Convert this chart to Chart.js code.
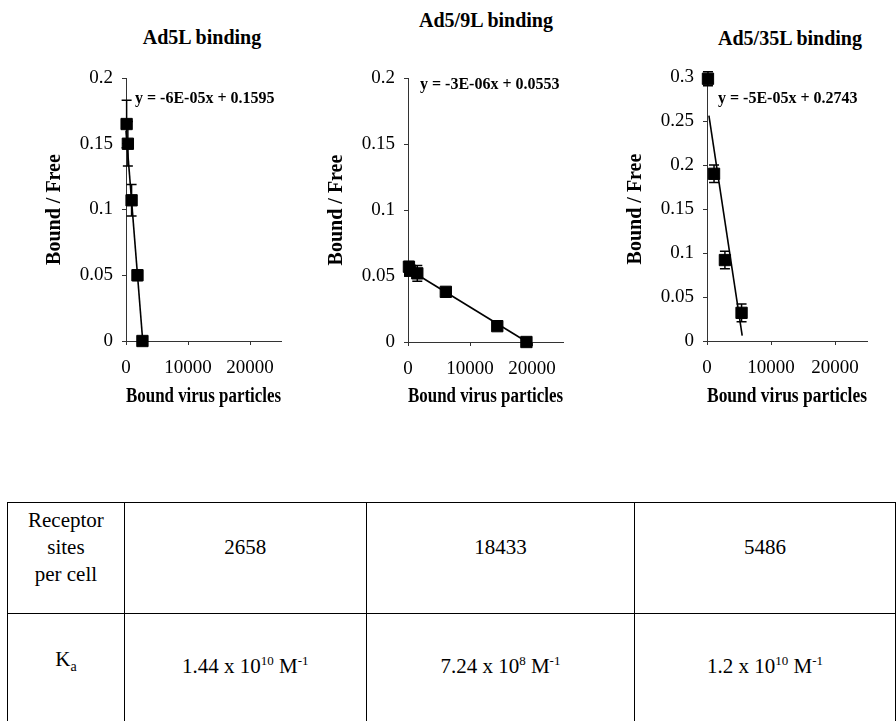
<!DOCTYPE html>
<html>
<head>
<meta charset="utf-8">
<script src="https://cdn.jsdelivr.net/npm/chart.js@4.4.1/dist/chart.umd.min.js"></script>
<style>
    body { margin: 0; width: 896px; height: 721px; background: #fff; position: relative; overflow: hidden;
           font-family: "Times New Roman", "Liberation Serif", serif; color: #000; }
    canvas { position: absolute; top: 0; }
    .titulo { position: absolute; font-weight: bold; font-size: 20px; transform: translate(-50%, -50%); white-space: nowrap; }
    .equacao { position: absolute; font-weight: bold; font-size: 16px; transform: translateY(-50%); white-space: nowrap; }
    table { position: absolute; left: 7px; top: 502px; border-collapse: collapse; font-size: 21px; }
    td { border: 1px solid #000; text-align: center; vertical-align: middle; padding: 0; line-height: 27px; }
    .linha1 td { height: 111px; padding-bottom: 22px; box-sizing: border-box; }
    .linha2 td { height: 130px; padding-bottom: 30px; box-sizing: border-box; }
</style>
</head>
<body>

<div class="titulo" style="left:202px; top:37px;">Ad5L binding</div>
<div class="titulo" style="left:486px; top:20px;">Ad5/9L binding</div>
<div class="titulo" style="left:790px; top:38px;">Ad5/35L binding</div>

<canvas id="grafico1" width="290" height="420" style="left:0px;"></canvas>
<canvas id="grafico2" width="290" height="420" style="left:282px;"></canvas>
<canvas id="grafico3" width="300" height="420" style="left:581px;"></canvas>

<div class="equacao" style="left:135px; top:98px;">y = -6E-05x + 0.1595</div>
<div class="equacao" style="left:420px; top:84px;">y = -3E-06x + 0.0553</div>
<div class="equacao" style="left:718px; top:98px;">y = -5E-05x + 0.2743</div>

<table>
    <tr class="linha1">
        <td style="width:117px;">Receptor<br>sites<br>per cell</td>
        <td style="width:243px;">2658</td>
        <td style="width:269px;">18433</td>
        <td style="width:262px;">5486</td>
    </tr>
    <tr class="linha2">
        <td>K<sub style="font-size:14px;">a</sub></td>
        <td>1.44 x 10<sup style="font-size:13px;">10</sup> M<sup style="font-size:13px;">-1</sup></td>
        <td>7.24 x 10<sup style="font-size:13px;">8</sup> M<sup style="font-size:13px;">-1</sup></td>
        <td>1.2 x 10<sup style="font-size:13px;">10</sup> M<sup style="font-size:13px;">-1</sup></td>
    </tr>
</table>

<script>
// Ad5L
const xAd5 = [100, 300, 900, 1850, 2650];
const yAd5 = [0.165, 0.150, 0.107, 0.050, 0.000];
const erroAd5 = [0.018, 0.017, 0.012, 0.004, 0.001];
const tendXAd5 = [0, 2700];
const tendYAd5 = [0.16, 0];

// Ad5/9L
const xAd59 = [150, 350, 1500, 6100, 14400, 19100];
const yAd59 = [0.057, 0.054, 0.052, 0.038, 0.012, 0.000];
const erroAd59 = [0.004, 0.003, 0.006, 0.002, 0.001, 0.001];
const tendXAd59 = [0, 19200];
const tendYAd59 = [0.0553, 0];

// Ad5/35L
const xAd535 = [150, 1100, 2800, 5400];
const yAd535 = [0.298, 0.190, 0.092, 0.032];
const erroAd535 = [0.008, 0.010, 0.010, 0.010];
const tendXAd535 = [300, 5500];
const tendYAd535 = [0.256, 0.006];

const ticksX = [0, 10000, 20000];
const fonte = "'Times New Roman', 'Liberation Serif', serif";

const barrasErro = {
    id: 'barrasErro',
    afterDatasetsDraw(chart) {
        const ctx = chart.ctx;
        const sx = chart.scales.x, sy = chart.scales.y;
        chart.data.datasets.forEach(ds => {
            if (!ds.erros) return;
            ctx.save();
            ctx.strokeStyle = '#000';
            ctx.lineWidth = 1.5;
            ds.data.forEach((p, i) => {
                const e = ds.erros[i];
                const px = sx.getPixelForValue(p.x);
                const y1 = sy.getPixelForValue(p.y + e);
                const y2 = sy.getPixelForValue(Math.max(p.y - e, 0));
                ctx.beginPath();
                ctx.moveTo(px, y1); ctx.lineTo(px, y2);
                ctx.moveTo(px - 5, y1); ctx.lineTo(px + 5, y1);
                ctx.moveTo(px - 5, y2); ctx.lineTo(px + 5, y2);
                ctx.stroke();
            });
            ctx.restore();
        });
    }
};

function criaGrafico(id, xs, ys, erros, tx, ty, yMax, base, topo, padDir) {
    const ctx = document.getElementById(id).getContext('2d');
    const pontos = xs.map((x, i) => ({ x: x, y: ys[i] }));
    const tendencia = tx.map((x, i) => ({ x: x, y: ty[i] }));
    const alturaCanvas = 420;

    return new Chart(ctx, {
        type: 'scatter',
        data: {
            datasets: [
                {
                    data: tendencia,
                    showLine: true,
                    borderColor: '#000',
                    borderWidth: 1.6,
                    pointRadius: 0,
                    clip: false
                },
                {
                    data: pontos,
                    erros: erros,
                    pointStyle: 'rect',
                    pointRadius: 8,
                    backgroundColor: '#000',
                    borderColor: '#000',
                    clip: false
                }
            ]
        },
        options: {
            responsive: false,
            animation: false,
            layout: { padding: { top: topo, right: padDir, left: 0, bottom: 0 } },
            plugins: { legend: { display: false }, tooltip: { enabled: false } },
            scales: {
                x: {
                    min: 0,
                    max: 25000,
                    afterBuildTicks: s => { s.ticks = ticksX.map(v => ({ value: v })); },
                    afterFit: s => { s.height = alturaCanvas - base; },
                    grid: { drawOnChartArea: false, tickLength: 4, color: '#333' },
                    border: { color: '#333', width: 1 },
                    ticks: {
                        color: '#000',
                        padding: 12,
                        font: { family: fonte, size: 19 },
                        callback: v => String(v)
                    },
                    title: {
                        display: true,
                        text: 'Bound virus particles',
                        color: '#000',
                        padding: { bottom: 11 },
                        font: { family: fonte, size: 20, weight: 'bold' }
                    }
                },
                y: {
                    min: 0,
                    max: yMax,
                    afterFit: s => { s.width = 126; },
                    grid: { drawOnChartArea: false, tickLength: 4, color: '#333' },
                    border: { color: '#333', width: 1 },
                    ticks: {
                        stepSize: 0.05,
                        color: '#000',
                        padding: 9,
                        font: { family: fonte, size: 19 },
                        callback: v => String(parseFloat(v.toFixed(2)))
                    },
                    title: {
                        display: true,
                        text: 'Bound / Free',
                        color: '#000',
                        padding: { top: 43 },
                        font: { family: fonte, size: 20, weight: 'bold' }
                    }
                }
            }
        },
        plugins: [barrasErro]
    });
}

criaGrafico('grafico1', xAd5, yAd5, erroAd5, tendXAd5, tendYAd5, 0.2, 341, 78, 3);
criaGrafico('grafico2', xAd59, yAd59, erroAd59, tendXAd59, tendYAd59, 0.2, 342, 78, 2);
criaGrafico('grafico3', xAd535, yAd535, erroAd535, tendXAd535, tendYAd535, 0.3, 341, 77, 14);
</script>
</body>
</html>
